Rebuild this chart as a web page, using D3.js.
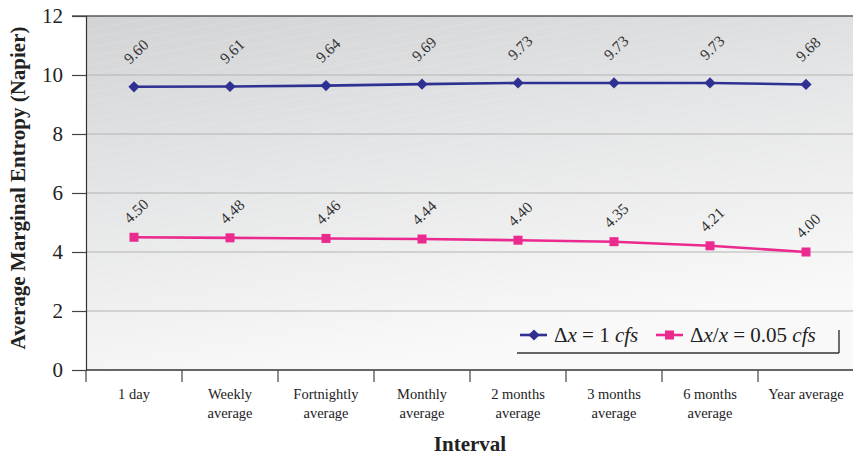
<!DOCTYPE html>
<html>
<head>
<meta charset="utf-8">
<script src="https://cdn.jsdelivr.net/npm/d3@7/dist/d3.min.js"></script>
<style>
  html, body { margin: 0; padding: 0; background: #fff; }
  svg, svg text { font-family: "Liberation Serif", "Times New Roman", serif; }
</style>
</head>
<body>
<svg id="chart" width="853" height="457"></svg>
<script>
// Interval categories (two-line tick labels)
const categories = ["1 day", "Weekly average", "Fortnightly average", "Monthly average",
                    "2 months average", "3 months average", "6 months average", "Year average"];
const tickLines = [["1 day"], ["Weekly", "average"], ["Fortnightly", "average"], ["Monthly", "average"],
                   ["2 months", "average"], ["3 months", "average"], ["6 months", "average"], ["Year average"]];
// Average marginal entropy for each discretisation
const seriesAbs = [9.60, 9.61, 9.64, 9.69, 9.73, 9.73, 9.73, 9.68];   // Δx = 1 cfs
const seriesRel = [4.50, 4.48, 4.46, 4.44, 4.40, 4.35, 4.21, 4.00];   // Δx/x = 0.05 cfs
const yTicks = [0, 2, 4, 6, 8, 10, 12];

(function draw() {
const serif = "'Liberation Serif', 'Times New Roman', serif";
const blue = "#2e3192", pink = "#ea2a8e";
const svg = d3.select("#chart");
const mLeft = 86, mRight = 854, mTop = 16, mBottom = 370;

const x = d3.scaleBand().domain(categories).range([mLeft, mRight]).padding(0);
const y = d3.scaleLinear().domain([0, 12]).range([mBottom, mTop]);

// plot background: gray-to-white diagonal gradient with faint streaks
const defs = svg.append("defs");
const grad = defs.append("linearGradient").attr("id", "bg")
  .attr("x1", "0").attr("y1", "0").attr("x2", "0.35").attr("y2", "1");
grad.append("stop").attr("offset", "0").attr("stop-color", "#d2d3d5");
grad.append("stop").attr("offset", "0.45").attr("stop-color", "#e4e5e6");
grad.append("stop").attr("offset", "1").attr("stop-color", "#f9f9f9");
svg.append("rect").attr("x", mLeft).attr("y", mTop).attr("width", mRight - mLeft).attr("height", mBottom - mTop)
  .attr("fill", "url(#bg)");

const clip = defs.append("clipPath").attr("id", "plotclip");
clip.append("rect").attr("x", mLeft).attr("y", mTop).attr("width", mRight - mLeft).attr("height", mBottom - mTop);
const streaks = svg.append("g").attr("clip-path", "url(#plotclip)");
for (let i = -40; i < 60; i++) {
  const y0 = mTop + i * 9;
  streaks.append("line").attr("x1", mLeft).attr("y1", y0 + 140).attr("x2", mRight).attr("y2", y0)
    .attr("stroke", "#ffffff").attr("stroke-opacity", 0.18).attr("stroke-width", 0.8);
}

// horizontal gridlines
svg.append("g").selectAll("line").data(yTicks.filter(d => d > 0 && d < 12)).join("line")
  .attr("x1", mLeft).attr("x2", mRight).attr("y1", d => y(d)).attr("y2", d => y(d))
  .attr("stroke", "#b3b3b3").attr("stroke-width", 1.2);

// top border
svg.append("line").attr("x1", 72).attr("x2", mRight).attr("y1", y(12)).attr("y2", y(12))
  .attr("stroke", "#5a5a5a").attr("stroke-width", 1.6);

// y axis
const yAxis = svg.append("g").attr("transform", `translate(${mLeft},0)`)
  .call(d3.axisLeft(y).tickValues(yTicks).tickSize(14).tickPadding(9).tickFormat(d3.format("d")));
yAxis.attr("font-family", serif);
yAxis.select(".domain").attr("stroke", "#333").attr("stroke-width", 1.2);
yAxis.selectAll(".tick line").attr("stroke", "#444").attr("stroke-width", 1.2);
yAxis.selectAll(".tick text").attr("font-size", 21).attr("fill", "#222")
  .style("font-family", serif);

// x axis with ticks at band edges
const xAxisG = svg.append("g");
xAxisG.append("line").attr("x1", mLeft).attr("x2", mRight).attr("y1", mBottom).attr("y2", mBottom)
  .attr("stroke", "#333").attr("stroke-width", 1.4);
const edges = categories.map(c => x(c));
xAxisG.selectAll("line.edge").data(edges).join("line").attr("class", "edge")
  .attr("x1", d => d).attr("x2", d => d).attr("y1", mBottom).attr("y2", mBottom + 12)
  .attr("stroke", "#444").attr("stroke-width", 1.2);
const labels = xAxisG.selectAll("text").data(categories).join("text")
  .attr("x", d => x(d) + x.bandwidth() / 2).attr("y", 399)
  .attr("text-anchor", "middle").attr("font-size", 14.5).attr("fill", "#222")
  .style("font-family", serif);
labels.each(function(d, i) {
  const t = d3.select(this);
  tickLines[i].forEach((ln, j) => {
    t.append("tspan").attr("x", x(d) + x.bandwidth() / 2).attr("dy", j === 0 ? 0 : 19).text(ln);
  });
});

// axis titles
svg.append("text").attr("transform", "translate(25,188) rotate(-90)")
  .attr("text-anchor", "middle").attr("font-size", 21).attr("font-weight", "bold").attr("fill", "#222")
  .style("font-family", serif)
  .text("Average Marginal Entropy (Napier)");
svg.append("text").attr("x", 470).attr("y", 451).attr("text-anchor", "middle")
  .attr("font-size", 21).attr("font-weight", "bold").attr("fill", "#222")
  .style("font-family", serif).text("Interval");

// series lines and markers
const cx = i => x(categories[i]) + x.bandwidth() / 2;
const line = d3.line().x((d, i) => cx(i)).y(d => y(d));
svg.append("path").datum(seriesAbs).attr("d", line).attr("fill", "none")
  .attr("stroke", blue).attr("stroke-width", 2.6);
svg.append("path").datum(seriesRel).attr("d", line).attr("fill", "none")
  .attr("stroke", pink).attr("stroke-width", 2.6);

const diamond = d3.symbol().type(d3.symbolDiamond2).size(80);
svg.append("g").selectAll("path").data(seriesAbs).join("path")
  .attr("transform", (d, i) => `translate(${cx(i)},${y(d)})`).attr("d", diamond).attr("fill", blue);
svg.append("g").selectAll("rect").data(seriesRel).join("rect")
  .attr("x", (d, i) => cx(i) - 4.5).attr("y", d => y(d) - 4.5).attr("width", 9).attr("height", 9)
  .attr("fill", pink);

// rotated value labels
function valueLabels(data, offset) {
  svg.append("g").selectAll("text").data(data).join("text")
    .attr("transform", (d, i) => `translate(${cx(i) - 4},${y(d) - offset}) rotate(-44)`)
    .attr("font-size", 15.5).attr("fill", "#333").style("font-family", serif)
    .text(d => d.toFixed(2));
}
valueLabels(seriesAbs, 22);
valueLabels(seriesRel, 13);

// legend
const lg = svg.append("g");
lg.append("line").attr("x1", 517).attr("x2", 839).attr("y1", 353).attr("y2", 353)
  .attr("stroke", "#333").attr("stroke-width", 1.4);
lg.append("line").attr("x1", 839).attr("x2", 839).attr("y1", 330).attr("y2", 353)
  .attr("stroke", "#333").attr("stroke-width", 1.4);
lg.append("line").attr("x1", 520).attr("x2", 547).attr("y1", 335).attr("y2", 335)
  .attr("stroke", blue).attr("stroke-width", 2.6);
lg.append("path").attr("transform", "translate(534,335)").attr("d", diamond).attr("fill", blue);
const t1 = lg.append("text").attr("x", 554).attr("y", 342).attr("font-size", 21).attr("fill", "#222")
  .style("font-family", serif);
t1.append("tspan").text("Δ");
t1.append("tspan").attr("font-style", "italic").text("x");
t1.append("tspan").text(" = 1 ");
t1.append("tspan").attr("font-style", "italic").text("cfs");
lg.append("line").attr("x1", 656).attr("x2", 683).attr("y1", 335).attr("y2", 335)
  .attr("stroke", pink).attr("stroke-width", 2.6);
lg.append("rect").attr("x", 665).attr("y", 330.5).attr("width", 9).attr("height", 9).attr("fill", pink);
const t2 = lg.append("text").attr("x", 690).attr("y", 342).attr("font-size", 21).attr("fill", "#222")
  .style("font-family", serif);
t2.append("tspan").text("Δ");
t2.append("tspan").attr("font-style", "italic").text("x");
t2.append("tspan").text("/");
t2.append("tspan").attr("font-style", "italic").text("x");
t2.append("tspan").text(" = 0.05 ");
t2.append("tspan").attr("font-style", "italic").text("cfs");
})();
</script>
</body>
</html>
